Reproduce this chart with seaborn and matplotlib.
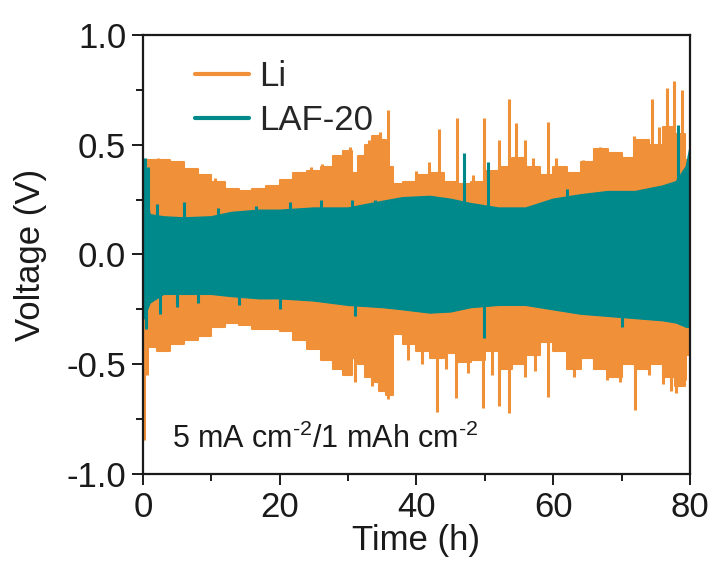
import numpy as np
import pandas as pd
import matplotlib
matplotlib.use('Agg')
import matplotlib.pyplot as plt
from matplotlib.lines import Line2D
from matplotlib.ticker import MultipleLocator
import seaborn as sns

# Envelope of the Li cell (upper / lower voltage read at each time)
li_t = [0, 1, 3, 5, 7, 9, 11, 13, 15, 17, 19, 21, 23, 25, 27, 28.5, 30, 31, 32,
        33, 34, 35, 36, 37, 39, 41, 43, 45, 47, 49, 51, 53, 55, 57, 59, 61, 63,
        65, 67, 69, 71, 73, 75, 77, 78.5, 80]
li_hi = [0.38, 0.43, 0.43, 0.42, 0.39, 0.36, 0.33, 0.30, 0.29, 0.30, 0.31, 0.34,
         0.37, 0.38, 0.40, 0.45, 0.47, 0.37, 0.45, 0.50, 0.54, 0.52, 0.40, 0.32,
         0.33, 0.36, 0.37, 0.33, 0.32, 0.33, 0.38, 0.40, 0.44, 0.40, 0.36, 0.40,
         0.37, 0.42, 0.48, 0.46, 0.44, 0.52, 0.50, 0.58, 0.55, 0.43]
li_lo = [-0.43, -0.42, -0.44, -0.41, -0.39, -0.37, -0.33, -0.31, -0.32, -0.34,
         -0.34, -0.35, -0.39, -0.43, -0.48, -0.52, -0.55, -0.47, -0.50, -0.56,
         -0.58, -0.62, -0.64, -0.36, -0.41, -0.44, -0.47, -0.45, -0.49, -0.48,
         -0.44, -0.52, -0.50, -0.46, -0.40, -0.44, -0.52, -0.47, -0.52, -0.56,
         -0.50, -0.52, -0.50, -0.56, -0.60, -0.46]

# Spikes of the Li cell
li_up_t = [2.2, 10.5, 24.5, 26.2, 30.3, 33.0, 34.6, 35.8, 40.0, 41.8, 43.3,
           45.9, 48.2, 49.8, 52.1, 53.6, 54.5, 55.8, 57.0, 59.3, 60.4, 64.3,
           66.8, 70.0, 71.8, 74.5, 75.4, 76.6, 77.6, 78.8]
li_up_v = [0.44, 0.35, 0.40, 0.41, 0.49, 0.52, 0.56, 0.66, 0.38, 0.42, 0.57,
           0.62, 0.36, 0.62, 0.52, 0.71, 0.60, 0.52, 0.44, 0.605, 0.44, 0.43,
           0.49, 0.44, 0.54, 0.71, 0.58, 0.76, 0.79, 0.75]
li_dn_t = [0.1, 0.6, 27.8, 29.6, 31.0, 33.5, 35.8, 38.8, 40.8, 43.0, 44.3,
           45.8, 47.5, 49.7, 51.0, 52.1, 53.6, 55.9, 57.3, 59.2, 63.0, 66.0,
           67.8, 69.7, 71.9, 74.0, 76.0, 77.2, 78.0, 79.3]
li_dn_v = [-0.845, -0.55, -0.50, -0.55, -0.58, -0.60, -0.66, -0.48, -0.50,
           -0.716, -0.52, -0.655, -0.54, -0.70, -0.55, -0.69, -0.72, -0.56,
           -0.53, -0.65, -0.56, -0.52, -0.57, -0.58, -0.71, -0.55, -0.59,
           -0.62, -0.63, -0.57]

# Envelope of the LAF-20 cell
laf_t = [0, 1, 3, 6, 10, 13, 17, 20, 25, 30, 35, 38, 42, 45, 48, 52, 56, 60,
         64, 68, 72, 76, 78, 79.5, 80]
laf_hi = [0.36, 0.18, 0.17, 0.165, 0.17, 0.19, 0.20, 0.20, 0.21, 0.21, 0.24,
          0.257, 0.263, 0.25, 0.23, 0.21, 0.21, 0.25, 0.27, 0.285, 0.285, 0.31,
          0.33, 0.40, 0.48]
laf_lo = [-0.30, -0.22, -0.18, -0.18, -0.18, -0.19, -0.20, -0.20, -0.21, -0.23,
          -0.24, -0.25, -0.265, -0.26, -0.24, -0.23, -0.23, -0.25, -0.27, -0.28,
          -0.29, -0.30, -0.31, -0.33, -0.33]

laf_up_t = [0.3, 0.8, 2.0, 6.0, 11.0, 16.5, 21.5, 26.0, 30.5, 34.0, 46.9, 50.4,
            62.0, 78.3]
laf_up_v = [0.44, 0.40, 0.23, 0.24, 0.21, 0.22, 0.24, 0.25, 0.25, 0.25, 0.46,
            0.42, 0.30, 0.59]
laf_dn_t = [0.4, 2.5, 5.0, 8.0, 14.0, 20.0, 31.0, 49.8, 70.0]
laf_dn_v = [-0.34, -0.27, -0.24, -0.22, -0.23, -0.25, -0.28, -0.38, -0.33]

li_color = '#F0913A'
laf_color = '#00898A'
ink = '#1a1a1a'

sns.set_style('ticks')
plt.rcParams['font.family'] = ['Liberation Sans', 'DejaVu Sans']
plt.rcParams['mathtext.fontset'] = 'custom'
plt.rcParams['mathtext.rm'] = 'Liberation Sans'
plt.rcParams['mathtext.it'] = 'Liberation Sans'

fig = plt.figure(figsize=(7.16, 5.63), dpi=100)
ax = fig.add_axes([0.1997, 0.158, 0.764, 0.780])

li_df = pd.DataFrame({'t': li_t, 'hi': li_hi, 'lo': li_lo})
laf_df = pd.DataFrame({'t': laf_t, 'hi': laf_hi, 'lo': laf_lo})

# Li
ax.fill_between(li_df['t'], li_df['lo'], li_df['hi'], color=li_color, lw=0,
                step='mid', zorder=1)
sns.lineplot(data=li_df, x='t', y='hi', color=li_color, lw=1.5, ax=ax,
             drawstyle='steps-mid', zorder=1.2)
sns.lineplot(data=li_df, x='t', y='lo', color=li_color, lw=1.5, ax=ax,
             drawstyle='steps-mid', zorder=1.2)
ax.vlines(li_up_t, 0, li_up_v, color=li_color, lw=2.2, zorder=1.3)
ax.vlines(li_dn_t, 0, li_dn_v, color=li_color, lw=2.2, zorder=1.3)

# LAF-20
ax.fill_between(laf_df['t'], laf_df['lo'], laf_df['hi'], color=laf_color, lw=0,
                zorder=2)
sns.lineplot(data=laf_df, x='t', y='hi', color=laf_color, lw=1.5, ax=ax, zorder=2.2)
sns.lineplot(data=laf_df, x='t', y='lo', color=laf_color, lw=1.5, ax=ax, zorder=2.2)
ax.vlines(laf_up_t, 0, laf_up_v, color=laf_color, lw=2.2, zorder=2.3)
ax.vlines(laf_dn_t, 0, laf_dn_v, color=laf_color, lw=2.2, zorder=2.3)

ax.set_xlim(0, 80)
ax.set_ylim(-1.0, 1.0)
ax.xaxis.set_major_locator(MultipleLocator(20))
ax.xaxis.set_minor_locator(MultipleLocator(10))
ax.yaxis.set_minor_locator(MultipleLocator(0.25))
ax.set_yticks([-1.0, -0.5, 0.0, 0.5, 1.0])
ax.set_yticklabels(['-1.0', '-0.5', '0.0', '0.5', '1.0'])
ax.tick_params(which='major', direction='out', length=8, width=1.4,
               labelsize=25, colors=ink, pad=4)
ax.tick_params(which='minor', direction='out', length=5, width=1.4, colors=ink)
for s in ax.spines.values():
    s.set_linewidth(1.6)
    s.set_color(ink)
    s.set_zorder(3)

ax.set_xlabel('Time (h)', fontsize=25, labelpad=0, color=ink)
ax.set_ylabel('Voltage (V)', fontsize=25, labelpad=14, color=ink)

handles = [Line2D([], [], color=li_color, lw=3),
           Line2D([], [], color=laf_color, lw=3)]
ax.legend(handles, ['Li', 'LAF-20'], loc='upper left', frameon=False,
          fontsize=25, handlelength=1.55, handletextpad=0.3, labelspacing=0.3,
          borderpad=0, borderaxespad=0, bbox_to_anchor=(0.095, 0.942))

ax.text(0.053, 0.059, '5 mA cm$^{\\text{-2}}$/1 mAh cm$^{\\text{-2}}$',
        transform=ax.transAxes, fontsize=22, color=ink, va='baseline')

fig.savefig('out.png', dpi=100)
